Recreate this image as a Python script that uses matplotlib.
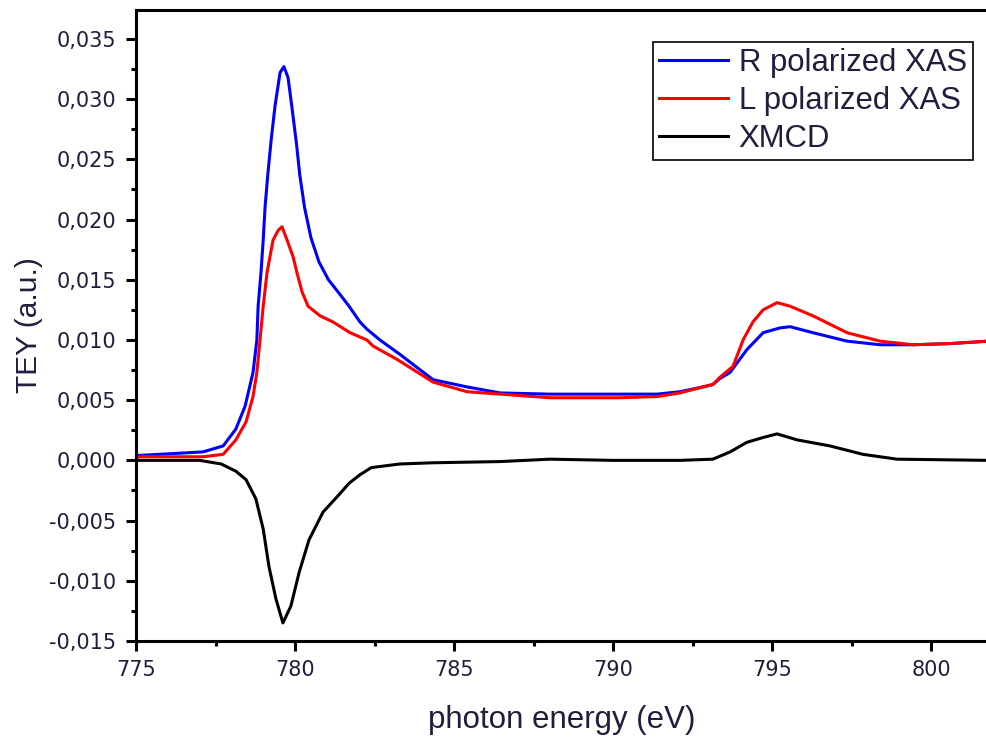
import matplotlib
matplotlib.use("Agg")
import matplotlib.pyplot as plt
from matplotlib.ticker import MultipleLocator, FuncFormatter

# Photon energy (eV) and TEY signal (a.u.) for each polarization
energy_r = [775.0, 777.1, 777.74, 778.14, 778.43, 778.68, 778.8, 778.84, 778.93,
            779.0, 779.06, 779.15, 779.25, 779.37, 779.53, 779.65, 779.78,
            779.9, 780.05, 780.15, 780.3, 780.5, 780.75, 781.05, 781.35,
            781.7, 782.04, 782.26, 782.67, 783.3, 784.34, 785.41, 786.45,
            788.02, 790.2, 791.38, 792.1, 792.83, 793.14, 793.36, 793.68,
            794.21, 794.72, 795.25, 795.57, 796.29, 797.36, 798.4, 799.43,
            800.6, 801.8]
tey_r = [0.0004, 0.0007, 0.0012, 0.0026, 0.0045, 0.0073, 0.0100, 0.0128, 0.0156,
         0.0183, 0.0211, 0.0239, 0.0266, 0.0294, 0.0322, 0.0327, 0.0318,
         0.0294, 0.0262, 0.0237, 0.0210, 0.0185, 0.0165, 0.0150, 0.0140,
         0.0128, 0.0115, 0.0109, 0.0100, 0.0088, 0.0067, 0.0061, 0.0056,
         0.0055, 0.0055, 0.0055, 0.0057, 0.0061, 0.0063, 0.0068, 0.0073,
         0.0092, 0.0106, 0.0110, 0.0111, 0.0106, 0.0099, 0.0096, 0.0096,
         0.0097, 0.0099]

energy_l = [775.0, 777.1, 777.74, 778.14, 778.46, 778.68, 778.8, 778.9, 779.0,
            779.12, 779.31, 779.47, 779.59, 779.75, 779.94, 780.06, 780.22,
            780.41, 780.79, 781.19, 781.73, 782.26, 782.45, 783.2, 784.34,
            785.41, 786.45, 788.02, 790.2, 791.4, 792.1, 792.83, 793.14,
            793.36, 793.77, 794.09, 794.4, 794.72, 795.16, 795.57, 796.29,
            797.36, 798.4, 799.43, 800.6, 801.8]
tey_l = [0.0003, 0.0003, 0.0005, 0.0017, 0.0032, 0.0053, 0.0073, 0.0100, 0.0128,
         0.0156, 0.0183, 0.0191, 0.0194, 0.0183, 0.0169, 0.0156, 0.0140,
         0.0128, 0.0120, 0.0115, 0.0106, 0.0100, 0.0095, 0.0084, 0.0065,
         0.0057, 0.0055, 0.0052, 0.0052, 0.0053, 0.0056, 0.0061, 0.0063,
         0.0069, 0.0078, 0.0100, 0.0115, 0.0125, 0.0131, 0.0128, 0.0120,
         0.0106, 0.0099, 0.0096, 0.0097, 0.0099]

energy_x = [775.0, 777.0, 777.68, 778.14, 778.46, 778.77, 779.0, 779.18, 779.4,
            779.62, 779.87, 780.13, 780.44, 780.88, 781.4, 781.7, 782.04,
            782.4, 783.3, 784.34, 786.45, 788.02, 790.0, 792.1, 793.14, 793.68,
            794.21, 794.72, 795.16, 795.79, 796.82, 797.86, 798.93, 801.8]
xmcd = [0.0000, 0.0000, -0.0003, -0.0009, -0.0016, -0.0032, -0.0057, -0.0088,
        -0.0115, -0.0135, -0.0121, -0.0093, -0.0066, -0.0043, -0.0028,
        -0.0019, -0.0012, -0.0006, -0.0003, -0.0002, -0.0001, 0.0001, 0.0000,
        0.0000, 0.0001, 0.0007, 0.0015, 0.0019, 0.0022, 0.0017, 0.0012,
        0.0005, 0.0001, 0.0000]

series_labels = ["R polarized XAS", "L polarized XAS", "XMCD"]

text_color = "#1f1f3d"
label_font = "Liberation Sans"

fig = plt.figure(figsize=(9.87, 7.39), dpi=100)
ax = fig.add_axes([136 / 987, 98 / 739, 1 - 136 / 987, 631 / 739])

lw = 2.2
ax.plot(energy_r, tey_r, color="#0000ff", lw=lw, label=series_labels[0])
ax.plot(energy_l, tey_l, color="#ff0000", lw=lw, label=series_labels[1])
ax.plot(energy_x, xmcd, color="#000000", lw=lw, label=series_labels[2])

ax.set_xlim(775, 801.76)
ax.set_ylim(-0.015, 0.0374)

ax.spines["right"].set_visible(False)
for side in ("left", "bottom", "top"):
    ax.spines[side].set_linewidth(2.2)

ax.xaxis.set_major_locator(MultipleLocator(5))
ax.xaxis.set_minor_locator(MultipleLocator(2.5))
ax.yaxis.set_major_locator(MultipleLocator(0.005))
ax.yaxis.set_minor_locator(MultipleLocator(0.0025))

ax.yaxis.set_major_formatter(FuncFormatter(lambda v, p: f"{v:.3f}".replace(".", ",").replace("-0,000", "0,000")))
ax.xaxis.set_major_formatter(FuncFormatter(lambda v, p: f"{v:.0f}"))

ax.tick_params(axis="both", which="major", direction="out", length=7.5, width=2.2,
               labelsize=15, labelcolor=text_color, top=False, right=False)
ax.tick_params(axis="both", which="minor", direction="out", length=3.8, width=2.2,
               top=False, right=False)
ax.tick_params(axis="y", which="major", pad=7)
ax.tick_params(axis="x", which="major", pad=6)
for lab in ax.get_xticklabels() + ax.get_yticklabels():
    lab.set_family("DejaVu Sans")

ax.set_xlabel("photon energy (eV)", fontsize=22.5, family=label_font,
              color=text_color, labelpad=18)
ax.set_ylabel("TEY (a.u.)", fontsize=21.5, family=label_font,
              color=text_color, labelpad=4)

leg = ax.legend(loc="upper right", bbox_to_anchor=(973 / 987, 1 - 42 / 739),
                bbox_transform=fig.transFigure, borderaxespad=0,
                prop={"family": label_font, "size": 22.4},
                handlelength=2.2, handletextpad=0.35, labelspacing=0.25,
                borderpad=0.2, fancybox=False, framealpha=1,
                edgecolor="black")
leg.get_frame().set_linewidth(1.2)
for t in leg.get_texts():
    t.set_color(text_color)

fig.savefig("out.png", dpi=100)
